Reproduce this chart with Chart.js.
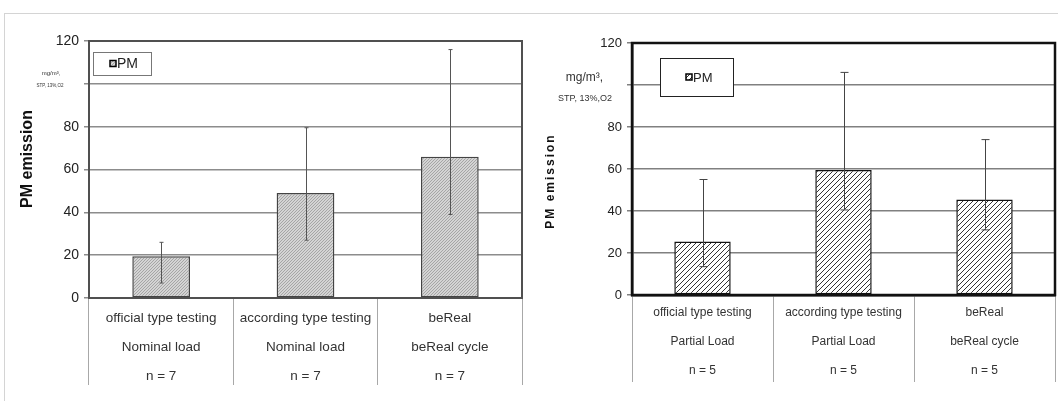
<!DOCTYPE html>
<html>
<head>
<meta charset="utf-8">
<script src="https://cdn.jsdelivr.net/npm/chart.js@4.4.0/dist/chart.umd.min.js"></script>
<style>
html, body { margin: 0; padding: 0; background: #fff; }
#page { position: relative; width: 1058px; height: 401px; overflow: hidden; }
#outline { position: absolute; left: 4px; top: 13px; width: 1100px; height: 420px; border: 1px solid #d4d4d4; }
#nominalChart { position: absolute; left: 0; top: 0; }
#partialChart { position: absolute; left: 529px; top: 0; }
</style>
</head>
<body>
<div id="page">
  <div id="outline"></div>
  <canvas id="nominalChart" width="529" height="401"></canvas>
  <canvas id="partialChart" width="529" height="401"></canvas>
</div>
<script>
// categories (three rows under each chart)
const testTypes = ['official type testing', 'according type testing', 'beReal'];
const nominalLoads = ['Nominal load', 'Nominal load', 'beReal cycle'];
const partialLoads = ['Partial Load', 'Partial Load', 'beReal cycle'];
const nominalCounts = ['n = 7', 'n = 7', 'n = 7'];
const partialCounts = ['n = 5', 'n = 5', 'n = 5'];

// PM emission, mg/m³ STP 13% O2 (mean, min, max)
const nominalPM = [19.5, 49, 66];
const nominalLow = [7, 27, 39];
const nominalHigh = [26, 79.5, 116];

const partialPM = [25.5, 59.5, 45.5];
const partialLow = [13.5, 40.5, 31];
const partialHigh = [55, 106, 74];

const yMax = 120;
const yStep = 20;
const hiddenTick = 100; // unit text sits there
const seriesLabel = 'PM';
const yTitle = 'PM emission';
const unitLine1 = 'mg/m³,';
const unitLine2 = 'STP, 13%,O2';

const ARIAL = "'Liberation Sans', Arial, sans-serif";
const NARROW = "'Liberation Sans Narrow', 'Arial Narrow', 'Liberation Sans', sans-serif";

function makeHatch(bg, line, gap, width) {
  const c = document.createElement('canvas');
  c.width = gap; c.height = gap;
  const g = c.getContext('2d');
  g.fillStyle = bg;
  g.fillRect(0, 0, gap, gap);
  g.strokeStyle = line;
  g.lineWidth = width;
  g.beginPath();
  g.moveTo(0, gap); g.lineTo(gap, 0);
  g.moveTo(-2, 2); g.lineTo(2, -2);
  g.moveTo(gap - 2, gap + 2); g.lineTo(gap + 2, gap - 2);
  g.stroke();
  return g.createPattern(c, 'repeat');
}

// error bars from the low/high arrays
const errorBars = {
  id: 'errorBars',
  afterDatasetsDraw(chart, args, opts) {
    const { ctx, scales: { x, y } } = chart;
    const ds = chart.data.datasets[0];
    ctx.save();
    ctx.strokeStyle = opts.color;
    ctx.lineWidth = opts.width;
    ds.errLow.forEach((lo, i) => {
      const px = Math.round(x.getPixelForValue(i)) + 0.5;
      const yLo = y.getPixelForValue(lo);
      const yHi = y.getPixelForValue(ds.errHigh[i]);
      ctx.beginPath();
      ctx.moveTo(px, yLo); ctx.lineTo(px, yHi);
      ctx.moveTo(px - opts.cap, yLo); ctx.lineTo(px + opts.cap, yLo);
      ctx.moveTo(px - opts.cap, yHi); ctx.lineTo(px + opts.cap, yHi);
      ctx.stroke();
    });
    ctx.restore();
  }
};

// frame round the plot, legend box, axis title and unit text
const decorations = {
  id: 'decorations',
  afterDraw(chart, args, o) {
    const { ctx, chartArea: a } = chart;
    ctx.save();
    ctx.strokeStyle = o.frameColor;
    ctx.lineWidth = o.frameWidth;
    ctx.strokeRect(a.left, a.top, a.right - a.left, a.bottom - a.top);

    // legend
    const lx = a.left + o.legend.dx, ly = a.top + o.legend.dy;
    ctx.fillStyle = '#fff';
    ctx.fillRect(lx, ly, o.legend.w, o.legend.h);
    ctx.lineWidth = 1;
    ctx.strokeStyle = o.legend.border;
    ctx.strokeRect(lx + 0.5, ly + 0.5, o.legend.w, o.legend.h);
    const cy = ly + o.legend.h / 2;
    const s = o.legend.box;
    ctx.fillStyle = chart.data.datasets[0].backgroundColor;
    ctx.fillRect(lx + o.legend.iconX, cy - s / 2, s, s);
    ctx.strokeStyle = '#000';
    ctx.lineWidth = 1.5;
    ctx.strokeRect(lx + o.legend.iconX, cy - s / 2, s, s);
    ctx.fillStyle = '#222';
    ctx.font = o.legend.font;
    ctx.textBaseline = 'middle';
    ctx.textAlign = 'left';
    ctx.fillText(chart.data.datasets[0].label, lx + o.legend.iconX + s + 1, cy + 1);

    // y title
    ctx.save();
    ctx.translate(o.title.x, o.title.y);
    ctx.rotate(-Math.PI / 2);
    ctx.font = o.title.font;
    ctx.letterSpacing = o.title.spacing;
    ctx.textAlign = 'center';
    ctx.textBaseline = 'middle';
    ctx.fillStyle = '#111';
    ctx.fillText(yTitle, 0, 0);
    ctx.restore();

    // units
    ctx.textAlign = 'center';
    ctx.textBaseline = 'middle';
    ctx.fillStyle = '#333';
    ctx.font = o.unit1.font;
    ctx.fillText(unitLine1, o.unit1.x, o.unit1.y);
    ctx.font = o.unit2.font;
    ctx.fillText(unitLine2, o.unit2.x, o.unit2.y);
    ctx.restore();
  }
};

function buildChart(id, loads, counts, values, low, high, st) {
  const hatch = makeHatch(st.hatchBg, st.hatchLine, st.hatchGap, st.hatchWidth);
  return new Chart(document.getElementById(id), {
    type: 'bar',
    data: {
      labels: testTypes.map((t, i) => [t, loads[i], counts[i]]),
      datasets: [{
        label: seriesLabel,
        data: values,
        errLow: low,
        errHigh: high,
        backgroundColor: hatch,
        borderColor: st.barBorder,
        borderWidth: 1.5,
        borderSkipped: false,
        barPercentage: 0.4,
        categoryPercentage: 1
      }]
    },
    options: {
      responsive: false,
      animation: false,
      layout: { padding: st.padding },
      plugins: {
        legend: { display: false },
        tooltip: { enabled: false },
        errorBars: { color: st.errColor, width: 1, cap: st.cap },
        decorations: st.deco
      },
      scales: {
        x: {
          grid: { offset: true, drawOnChartArea: false, drawTicks: true, tickLength: 87, color: '#a8a8a8', lineWidth: 1 },
          border: { display: true, color: st.frameColor, width: st.deco.frameWidth },
          ticks: {
            font: { family: st.font, size: st.catSize, lineHeight: '29px' },
            color: '#333',
            padding: st.catPad,
            maxRotation: 0,
            autoSkip: false
          },
          afterFit: s => { s.height = st.xHeight; }
        },
        y: {
          min: 0,
          max: yMax,
          ticks: {
            stepSize: yStep,
            callback: v => (v === hiddenTick ? '' : v),
            font: { family: st.font, size: st.tickSize },
            color: '#222',
            padding: 5
          },
          grid: { color: st.gridColor, lineWidth: 1.5, tickLength: 5 },
          border: { display: true, color: st.frameColor, width: st.deco.frameWidth },
          afterFit: s => { s.width = st.yWidth; }
        }
      }
    },
    plugins: [errorBars, decorations]
  });
}

buildChart('nominalChart', nominalLoads, nominalCounts, nominalPM, nominalLow, nominalHigh, {
  font: ARIAL, tickSize: 14, catSize: 13.5, catPad: -81.5,
  hatchBg: '#d4d4d4', hatchLine: '#999', hatchGap: 3, hatchWidth: 0.8,
  barBorder: '#444', errColor: '#555', cap: 2,
  gridColor: '#8c8c8c', frameColor: '#505050',
  padding: { top: 41, right: 7, left: 0, bottom: 0 },
  yWidth: 89, xHeight: 103,
  deco: {
    frameColor: '#505050', frameWidth: 2,
    legend: { dx: 4, dy: 11, w: 58, h: 23, border: '#777', box: 6, iconX: 17, font: '14px ' + ARIAL },
    title: { x: 28, y: 159, font: 'bold 16px ' + ARIAL, spacing: '0px' },
    unit1: { x: 51, y: 73.5, font: '6px ' + ARIAL },
    unit2: { x: 50, y: 86, font: '4.5px ' + ARIAL }
  }
});

buildChart('partialChart', partialLoads, partialCounts, partialPM, partialLow, partialHigh, {
  font: NARROW, tickSize: 13, catSize: 12, catPad: -83.5,
  hatchBg: '#ffffff', hatchLine: '#333', hatchGap: 5, hatchWidth: 1,
  barBorder: '#111', errColor: '#444', cap: 4,
  gridColor: '#808080', frameColor: '#111',
  padding: { top: 43, right: 3, left: 0, bottom: 0 },
  yWidth: 103, xHeight: 106,
  deco: {
    frameColor: '#111', frameWidth: 2.5,
    legend: { dx: 28, dy: 15, w: 73, h: 38, border: '#222', box: 6, iconX: 26, font: '13px ' + NARROW },
    title: { x: 22, y: 181, font: 'bold 12px ' + ARIAL, spacing: '2px' },
    unit1: { x: 55.5, y: 77.5, font: '12px ' + NARROW },
    unit2: { x: 56, y: 98.5, font: '9px ' + NARROW }
  }
});
</script>
</body>
</html>
